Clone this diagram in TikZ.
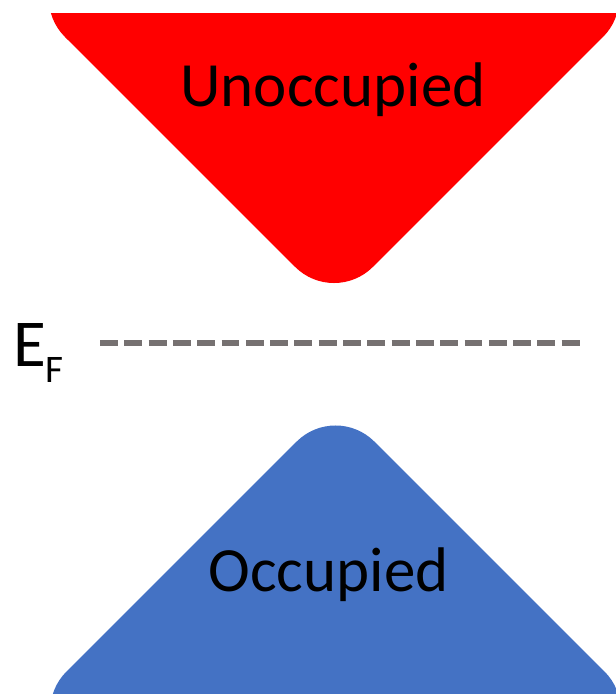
\documentclass[tikz,border=0pt]{standalone}
\usepackage{fontspec}
\setmainfont{Carlito}
\definecolor{bandred}{HTML}{FF0000}
\definecolor{bandblue}{HTML}{4472C4}
\definecolor{fermigray}{HTML}{767171}
\begin{document}
\begin{tikzpicture}[x=1pt,y=-1pt,
  bandlabel/.style={inner sep=0pt, anchor=base, font=\fontsize{63}{70}\selectfont},
  fermiline/.style={draw=fermigray, line width=6pt, dash pattern=on 17.9pt off 6.4pt}]
\useasboundingbox (0,0) rectangle (616,694);
% conduction band (unoccupied)
\begin{scope}
  \clip (0,13) rectangle (616,694);
  \fill[bandred] (64.9,36.9) arc[start angle=135, end angle=270, radius=55]
    -- (564.2,-57) arc[start angle=270, end angle=405, radius=55]
    -- (372.9,266.9) arc[start angle=45, end angle=135, radius=55]
    -- cycle;
\end{scope}
% valence band (occupied), mirror image
\begin{scope}[shift={(1.5,708.5)}, yscale=-1]
  \fill[bandblue] (64.9,36.9) arc[start angle=135, end angle=270, radius=55]
    -- (564.2,-57) arc[start angle=270, end angle=405, radius=55]
    -- (372.9,266.9) arc[start angle=45, end angle=135, radius=55]
    -- cycle;
\end{scope}
\node[bandlabel] (unocc) at (333,106.7) {Unoccupied};
\node[bandlabel] (occ) at (328.5,591) {Occupied};
% Fermi level
\node[inner sep=0pt, anchor=base west, font=\fontsize{67}{70}\selectfont] (ef) at (13.5,366) {E};
\node[inner sep=0pt, anchor=base west, font=\fontsize{39}{40}\selectfont] (efsub) at (45.5,382) {F};
\coordinate (fl) at (100,343);
\coordinate (fr) at (580.5,343);
\draw[fermiline] (fl) -- (fr);
\end{tikzpicture}
\end{document}
